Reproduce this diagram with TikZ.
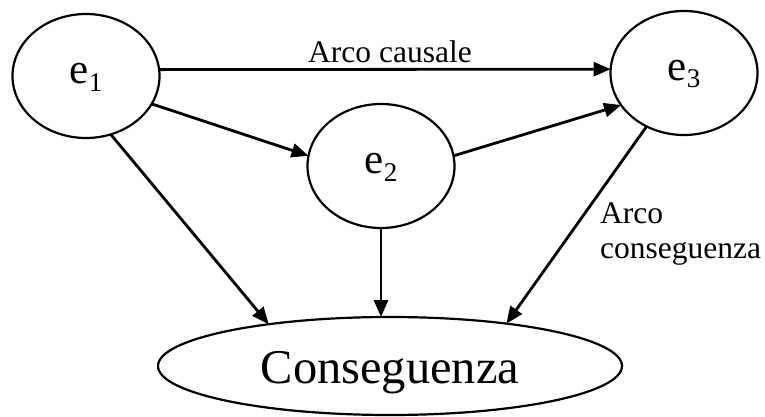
\documentclass[tikz,border=0pt]{standalone}
\usepackage{fontspec}
\setmainfont{Liberation Serif}
\usetikzlibrary{arrows.meta,shapes.geometric}
\begin{document}
\begin{tikzpicture}[x=1pt,y=1pt,
  evt/.style={draw, ellipse, line width=2.2pt, inner sep=0pt, outer sep=0pt,
    minimum width=147pt, minimum height=124pt,
    font=\fontsize{43}{43}\selectfont, text height=14pt, text depth=0pt},
  conn/.style={line width=2.8pt, -{Triangle[length=17pt,width=14pt]}},
  lbl/.style={font=\fontsize{31.5}{31.5}\selectfont, inner sep=0pt}]
\useasboundingbox (0,0) rectangle (765,416);
\newcommand{\subx}[1]{\raisebox{-8pt}{\fontsize{27}{27}\selectfont #1}}
\node[evt] (e1) at (86,340) {e\subx{1}};
\node[evt] (e2) at (381,250) {e\subx{2}};
\node[evt] (e3) at (684,343) {e\subx{3}};
\node[draw, ellipse, line width=2.2pt, inner sep=0pt, outer sep=0pt,
  minimum width=464pt, minimum height=98pt,
  font=\fontsize{48.5}{48.5}\selectfont, text height=34pt, text depth=0pt]
  (c) at (390,50) {Conseguenza};
\draw[conn] (e1.5) -- (e3.177);
\draw[conn] (e1.-23) -- (e2.172);
\draw[conn] (e2.8) -- (e3.-153);
\draw[conn] (e1.-67) -- (c.161);
\draw[conn] (e2.south) -- (e2.south |- c.north);
\draw[conn] (e3.-125) -- (c.20);
\node[lbl, anchor=base] (lc) at (390,353) {Arco causale};
\node[lbl, anchor=base west] (lq1) at (600,193) {Arco};
\node[lbl, anchor=base west] (lq2) at (600,158) {conseguenza};
\end{tikzpicture}
\end{document}
